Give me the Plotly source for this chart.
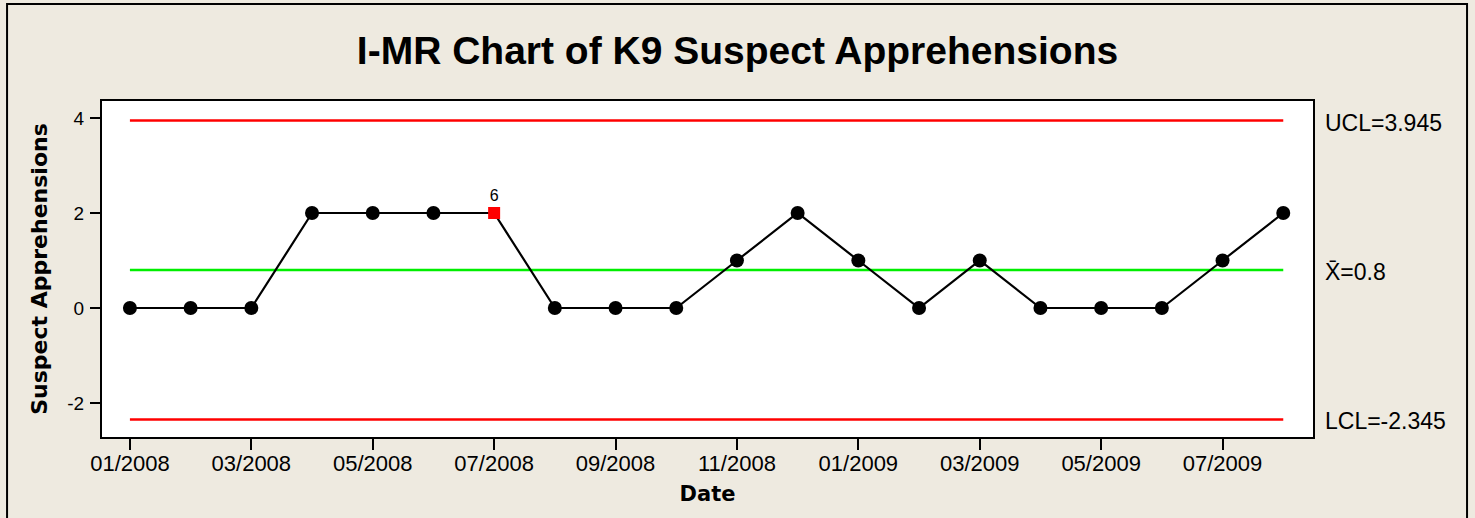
import plotly.graph_objects as go

# ---- data ----
dates = ["01/2008", "02/2008", "03/2008", "04/2008", "05/2008", "06/2008",
         "07/2008", "08/2008", "09/2008", "10/2008", "11/2008", "12/2008",
         "01/2009", "02/2009", "03/2009", "04/2009", "05/2009", "06/2009",
         "07/2009", "08/2009"]
apprehensions = [0, 0, 0, 2, 2, 2, 2, 0, 0, 0, 1, 2, 1, 0, 1, 0, 0, 0, 1, 2]
ucl = 3.945
center = 0.8
lcl = -2.345
flagged_index = 6
flagged_label = "6"
tick_dates = dates[::2]
y_ticks = [-2, 0, 2, 4]
y_tick_text = ["-2", "0", "2", "4"]

BG = "#EEEAE0"
FONT = "Liberation Sans, Arial, sans-serif"
BOLD = "DejaVu Sans, Verdana, sans-serif"

symbols = ["square" if i == flagged_index else "circle" for i in range(len(dates))]
colors = ["#FF0000" if i == flagged_index else "#000000" for i in range(len(dates))]
sizes = [12 if i == flagged_index else 14 for i in range(len(dates))]
labels = [flagged_label if i == flagged_index else "" for i in range(len(dates))]

fig = go.Figure()

# control limit lines
for val, col in [(ucl, "#FF0000"), (center, "#00EE00"), (lcl, "#FF0000")]:
    fig.add_trace(go.Scatter(x=[dates[0], dates[-1]], y=[val, val], mode="lines",
                             line=dict(color=col, width=2.5), hoverinfo="skip",
                             showlegend=False))

fig.add_trace(go.Scatter(
    x=dates, y=apprehensions, mode="lines+markers+text",
    line=dict(color="#000000", width=2.2),
    marker=dict(symbol=symbols, color=colors, size=sizes, opacity=1,
                line=dict(width=0)),
    text=labels, textposition="top center",
    textfont=dict(family=FONT, size=16, color="#000000"),
    showlegend=False,
))

# right-hand limit labels
for val, txt in [(ucl, "UCL=3.945"), (center, "X\u0304=0.8"), (lcl, "LCL=-2.345")]:
    fig.add_annotation(x=1.0083, xref="paper", y=val, yref="y", text=txt,
                       showarrow=False, xanchor="left", yanchor="middle", yshift=-2,
                       font=dict(family=FONT, size=23, color="#000000"))

# outer frame
fig.add_shape(type="rect", xref="paper", yref="paper",
              x0=-0.0784, x1=1.1272, y0=-0.6, y1=1.2887,
              line=dict(color="#000000", width=2), fillcolor="rgba(0,0,0,0)")

fig.update_layout(
    width=1475, height=518,
    margin=dict(l=102, r=162, t=101, b=81),
    paper_bgcolor=BG, plot_bgcolor="#FFFFFF",
    title=dict(text="<b>I-MR Chart of K9 Suspect Apprehensions</b>",
               x=0.5, xref="container", y=1 - 50 / 518, yref="container",
               xanchor="center", yanchor="middle",
               font=dict(family=FONT, size=39, color="#000000")),
    xaxis=dict(
        type="category", categoryorder="array", categoryarray=dates,
        range=[-0.46, 19.49],
        tickmode="array", tickvals=tick_dates, ticktext=tick_dates,
        ticks="outside", ticklen=11, tickwidth=2, tickcolor="#000000",
        ticklabelstandoff=-5,
        showline=True, linewidth=2, linecolor="#000000", mirror=True,
        showgrid=False, zeroline=False,
        tickfont=dict(family=FONT, size=22, color="#000000"),
        title=dict(text="<b>Date</b>", standoff=11,
                   font=dict(family=BOLD, size=21, color="#000000")),
    ),
    yaxis=dict(
        range=[-2.716, 4.358],
        tickmode="array", tickvals=y_ticks, ticktext=y_tick_text,
        ticks="outside", ticklen=10, tickwidth=2, tickcolor="#000000",
        ticklabelstandoff=2,
        showline=True, linewidth=2, linecolor="#000000", mirror=True,
        showgrid=False, zeroline=False,
        tickfont=dict(family=FONT, size=19, color="#000000"),
        title=dict(text="<b>Suspect Apprehensions</b>", standoff=14,
                   font=dict(family=BOLD, size=22, color="#000000")),
    ),
)

fig.write_html("out.html", config={"displayModeBar": False},
               post_script="document.body.style.margin='0';document.body.style.background='" + BG + "';")
